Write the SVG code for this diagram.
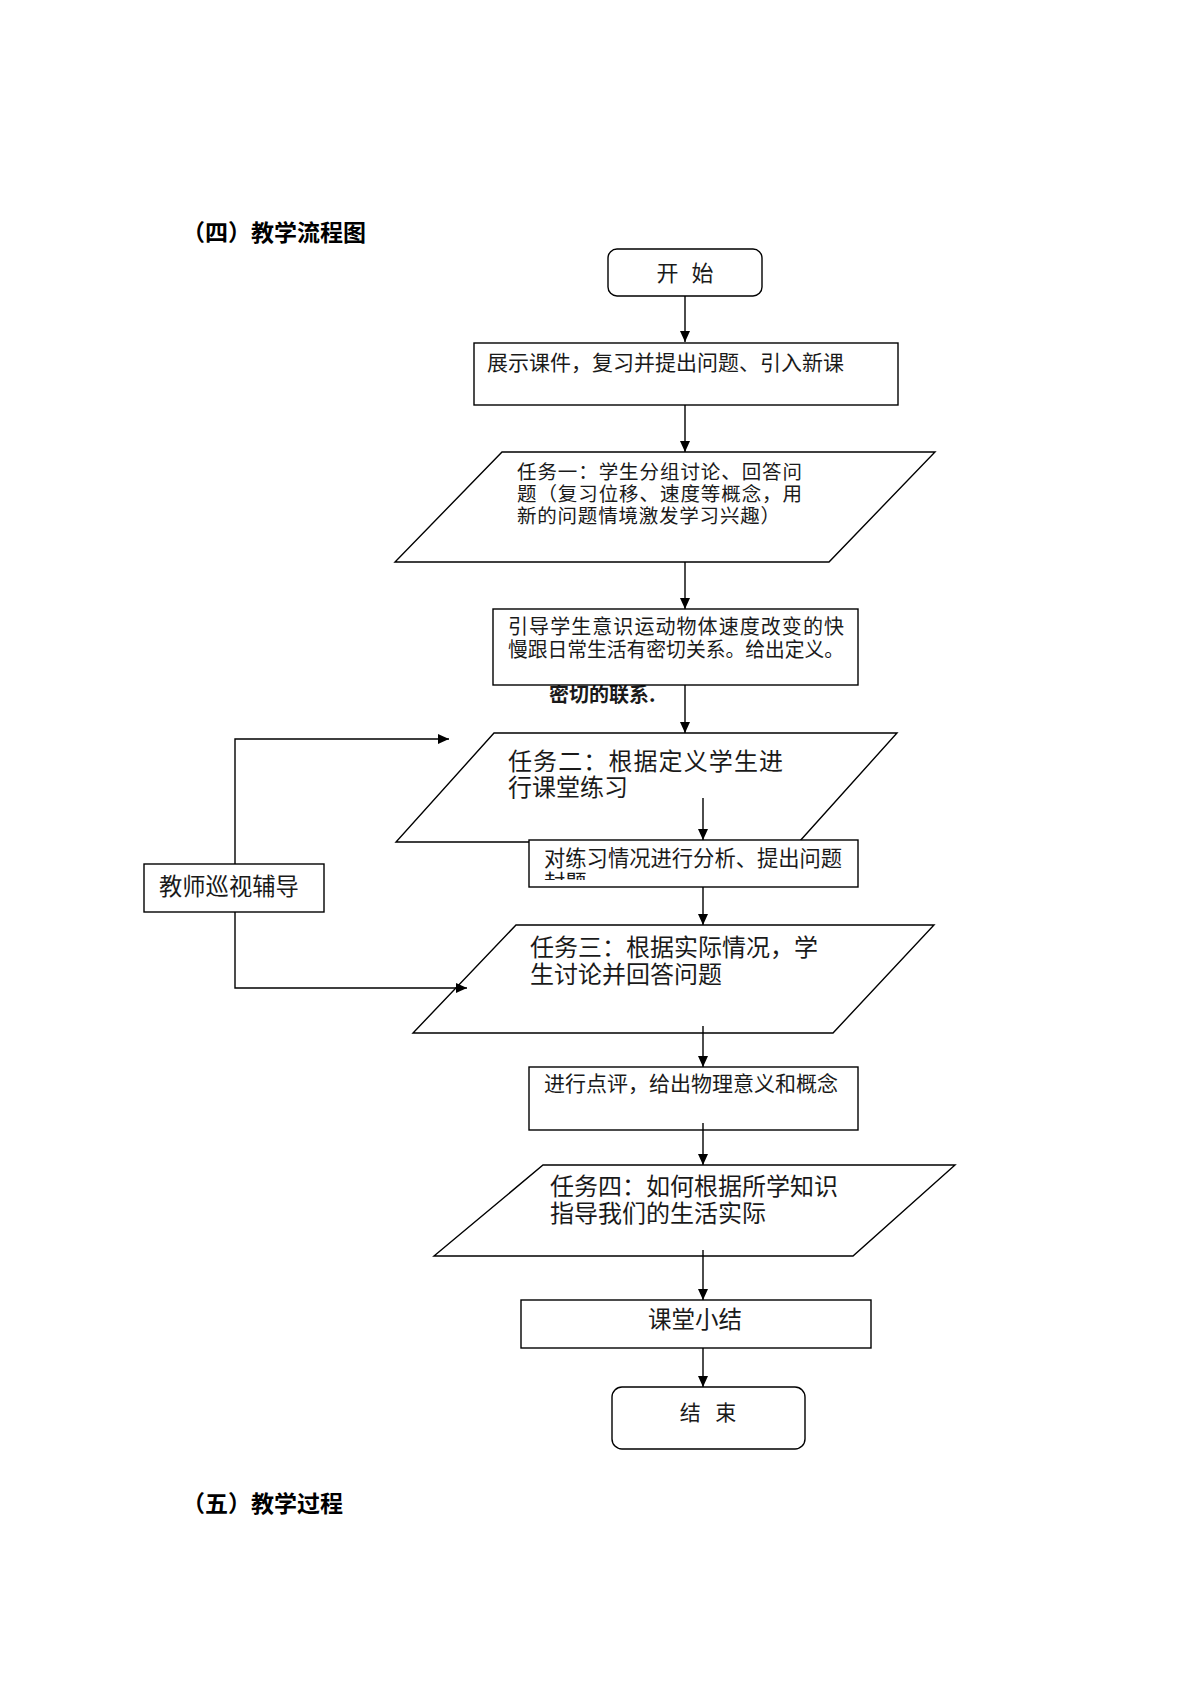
<svg xmlns="http://www.w3.org/2000/svg" width="1191" height="1684" viewBox="0 0 1191 1684">
<style>
  .shape { fill: #ffffff; stroke: #000000; stroke-width: 1.4; }
  .line { fill: none; stroke: #000000; stroke-width: 1.4; }
  .t { font-family: "Noto Sans CJK SC", "Liberation Sans", sans-serif; fill: #1a1a1a; }
  .title { font-family: "Noto Sans CJK SC", "Liberation Sans", sans-serif; font-weight: bold; font-size: 23px; fill: #000000; }
</style>
<defs>
  <marker id="arr" markerWidth="11" markerHeight="10" refX="11" refY="5" orient="auto" markerUnits="userSpaceOnUse">
    <path d="M0,0 L11,5 L0,10 z" fill="#000000"/>
  </marker>
  <clipPath id="clip4">
    <rect x="529" y="840" width="329" height="40"/>
  </clipPath>
</defs>
<rect x="0" y="0" width="1191" height="1684" fill="#ffffff"/>

<text class="title" x="182" y="241" font-size="23.5">（四）教学流程图</text>
<text class="title" x="182" y="1512">（五）教学过程</text>

<text class="t" x="549" y="702" font-size="20" font-weight="bold">密切的联系.</text>

<g id="start">
  <rect class="shape" x="608" y="249" width="154" height="47" rx="9"/>
  <text class="t" x="685" y="281" font-size="22" text-anchor="middle" word-spacing="8">开 始</text>
</g>
<g id="show">
  <rect class="shape" x="474" y="343" width="424" height="62"/>
  <text class="t" x="487" y="370" font-size="21">展示课件，复习并提出问题、引入新课</text>
</g>
<g id="task1">
  <polygon class="shape" points="502,452 935,452 829,562 395,562"/>
  <text class="t" x="517" y="479" font-size="19.5" textLength="285" lengthAdjust="spacing">任务一：学生分组讨论、回答问</text>
  <text class="t" x="517" y="501" font-size="19.5" textLength="285" lengthAdjust="spacing">题（复习位移、速度等概念，用</text>
  <text class="t" x="517" y="523" font-size="19.5" textLength="263" lengthAdjust="spacing">新的问题情境激发学习兴趣）</text>
</g>
<g id="guide">
  <rect class="shape" x="493" y="609" width="365" height="76"/>
  <text class="t" x="508" y="634" font-size="20" textLength="336" lengthAdjust="spacing">引导学生意识运动物体速度改变的快</text>
  <text class="t" x="508" y="657" font-size="20" textLength="336" lengthAdjust="spacingAndGlyphs">慢跟日常生活有密切关系。给出定义。</text>
</g>
<g id="task2">
  <polygon class="shape" points="494,733 897,733 799,842 396,842"/>
  <text class="t" x="508" y="770" font-size="24" textLength="275" lengthAdjust="spacing">任务二：根据定义学生进</text>
  <text class="t" x="508" y="796" font-size="24">行课堂练习</text>
</g>
<g id="analyze">
  <rect class="shape" x="529" y="840" width="329" height="47"/>
  <text class="t" x="544" y="866" font-size="21.3">对练习情况进行分析、提出问题</text>
  <text class="t" x="544" y="890" font-size="21.3" clip-path="url(#clip4)">封题</text>
</g>
<g id="teacher">
  <rect class="shape" x="144" y="864" width="180" height="48"/>
  <text class="t" x="159" y="895" font-size="23.3">教师巡视辅导</text>
</g>
<g id="task3">
  <polygon class="shape" points="516,925 934,925 833,1033 413,1033"/>
  <text class="t" x="530" y="956" font-size="24">任务三：根据实际情况，学</text>
  <text class="t" x="530" y="983" font-size="24">生讨论并回答问题</text>
</g>
<g id="comment">
  <rect class="shape" x="529" y="1067" width="329" height="63"/>
  <text class="t" x="544" y="1091" font-size="21">进行点评，给出物理意义和概念</text>
</g>
<g id="task4">
  <polygon class="shape" points="543,1165 955,1165 853,1256 434,1256"/>
  <text class="t" x="550" y="1195" font-size="24">任务四：如何根据所学知识</text>
  <text class="t" x="550" y="1222" font-size="24">指导我们的生活实际</text>
</g>
<g id="summary">
  <rect class="shape" x="521" y="1300" width="350" height="48"/>
  <text class="t" x="695" y="1328" font-size="23.5" text-anchor="middle">课堂小结</text>
</g>
<g id="end">
  <rect class="shape" x="612" y="1387" width="193" height="62" rx="10"/>
  <text class="t" x="708" y="1420" font-size="21" text-anchor="middle" word-spacing="10">结 束</text>
</g>

<g id="connectors">
  <path class="line" d="M685,296 L685,342" marker-end="url(#arr)"/>
  <path class="line" d="M685,405 L685,452" marker-end="url(#arr)"/>
  <path class="line" d="M685,562 L685,609" marker-end="url(#arr)"/>
  <path class="line" d="M685,685 L685,733" marker-end="url(#arr)"/>
  <path class="line" d="M703,798 L703,840" marker-end="url(#arr)"/>
  <path class="line" d="M703,887 L703,925" marker-end="url(#arr)"/>
  <path class="line" d="M703,1026 L703,1067" marker-end="url(#arr)"/>
  <path class="line" d="M703,1123 L703,1165" marker-end="url(#arr)"/>
  <path class="line" d="M703,1250 L703,1300" marker-end="url(#arr)"/>
  <path class="line" d="M703,1348 L703,1387" marker-end="url(#arr)"/>
  <path class="line" d="M235,864 L235,739 L449,739" marker-end="url(#arr)"/>
  <path class="line" d="M235,912 L235,988 L467,988" marker-end="url(#arr)"/>
</g>
</svg>
